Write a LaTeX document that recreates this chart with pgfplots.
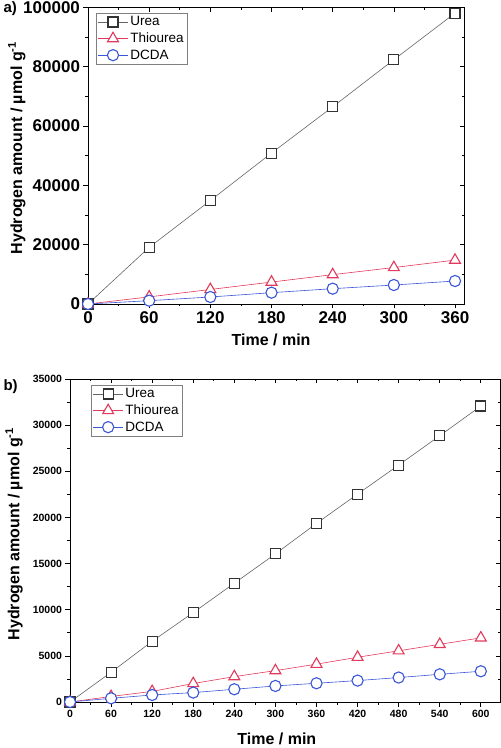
\documentclass[border=0pt]{standalone}
\usepackage{pgfplots}
\pgfplotsset{compat=1.18}
\usepackage{fontspec}
\setmainfont{Liberation Sans}
\definecolor{ureac}{HTML}{333333}
\definecolor{ureal}{HTML}{666666}
\definecolor{thioc}{HTML}{E23A5C}
\definecolor{dcdac}{HTML}{3A55D8}
\pgfplotsset{
  common/.style={
    scale only axis, anchor=south west,
    axis line style={black, line width=0.8pt},
    every tick/.style={black, line width=0.7pt},
    major tick length=4.5pt, minor tick length=2.5pt,
    /pgf/number format/assume math mode=true,
    /pgf/number format/fixed,
    /pgf/number format/precision=0,
    /pgf/number format/1000 sep={},
    scaled y ticks=false, scaled x ticks=false,
  },
  mainax/.style={common, tick align=outside, xtick pos=left, ytick pos=left},
  overax/.style={common, tick align=inside, xtick pos=right, ytick pos=right,
    xticklabels={}, yticklabels={}},
  ur/.style={color=ureal, line width=0.6pt, mark=square*, mark size=5pt,
    mark options={draw=ureac, line width=1.1pt, fill=white}},
  th/.style={color=thioc, line width=0.6pt, mark=triangle*, mark size=6.3pt,
    mark options={draw=thioc, line width=1.1pt, fill=white}},
  dc/.style={color=dcdac, line width=0.6pt, mark=*, mark size=5.6pt,
    mark options={draw=dcdac, line width=1.1pt, fill=white}},
  leg/.style={legend cell align=left,
    legend image code/.code={\draw[mark repeat=2,mark phase=2] plot coordinates {(0pt,0pt)(15pt,0pt)(30pt,0pt)};}},
}
\begin{document}
\begin{tikzpicture}
% ---------- panel a ----------
\begin{axis}[overax, at={(88pt,444pt)}, width=376pt, height=296.5pt,
  xmin=0, xmax=368.8, ymin=0, ymax=100000,
  xtick={0,60,...,360}, minor x tick num=1,
  ytick={0,20000,...,100000}, minor y tick num=1]
\end{axis}
\begin{axis}[mainax, leg, at={(88pt,444pt)}, width=376pt, height=296.5pt,
  xmin=0, xmax=368.8, ymin=0, ymax=100000,
  xtick={0,60,...,360}, minor x tick num=1,
  ytick={0,20000,...,100000}, minor y tick num=1,
  ticklabel style={font=\fontsize{17}{19}\selectfont\bfseries},
  xlabel={Time / min},
  xlabel style={font=\fontsize{16}{18}\selectfont\bfseries, at={(axis description cs:0.487,-0.12)}, anchor=center},
  ylabel={Hydrogen amount / \textmu mol g\textsuperscript{-1}},
  ylabel style={font=\fontsize{16}{18}\selectfont\bfseries, at={(axis description cs:-0.189,0.526)}, anchor=center},
  legend style={at={(axis description cs:0.021,0.982)}, anchor=north west,
    draw=gray, line width=0.6pt, font=\fontsize{13.5}{15}\selectfont,
    row sep=1.5pt, inner sep=1.5pt},
]
\addplot[ur] coordinates {(0,0)(60,19100)(120,34900)(180,50900)(240,66500)(300,82400)(360,98100)};
\addplot[th] coordinates {(0,0)(60,2400)(120,4900)(180,7400)(240,9900)(300,12300)(360,14800)};
\addplot[dc] coordinates {(0,0)(60,1120)(120,2360)(180,3820)(240,5170)(300,6400)(360,7750)};
\legend{Urea,Thiourea,DCDA}
\end{axis}
\node[font=\fontsize{15}{17}\selectfont\bfseries, anchor=west] at (0pt,739pt) {a)};
% ---------- panel b ----------
\begin{axis}[overax, at={(70pt,46pt)}, width=430pt, height=323pt,
  xmin=0, xmax=628, ymin=0, ymax=35000,
  xtick={0,60,...,600}, minor x tick num=1,
  ytick={0,5000,...,35000}, minor y tick num=1]
\end{axis}
\begin{axis}[mainax, leg, at={(70pt,46pt)}, width=430pt, height=323pt,
  xmin=0, xmax=628, ymin=0, ymax=35000,
  xtick={0,60,...,600}, minor x tick num=1,
  ytick={0,5000,...,35000}, minor y tick num=1,
  ticklabel style={font=\fontsize{10.5}{12}\selectfont\bfseries},
  xlabel={Time / min},
  xlabel style={font=\fontsize{16}{18}\selectfont\bfseries, at={(axis description cs:0.481,-0.113)}, anchor=center},
  ylabel={Hydrogen amount / \textmu mol g\textsuperscript{-1}},
  ylabel style={font=\fontsize{16}{18}\selectfont\bfseries, at={(axis description cs:-0.130,0.52)}, anchor=center},
  legend style={at={(axis description cs:0.049,0.982)}, anchor=north west,
    draw=gray, line width=0.6pt, font=\fontsize{13.5}{15}\selectfont,
    row sep=1.5pt, inner sep=1.5pt},
]
\addplot[ur] coordinates {(0,0)(60,3220)(120,6580)(180,9690)(240,12870)(300,16050)(360,19350)(420,22530)(480,25670)(540,28850)(600,32070)};
\addplot[th] coordinates {(0,0)(60,600)(120,1150)(180,2000)(240,2750)(300,3400)(360,4100)(420,4850)(480,5550)(540,6250)(600,6950)};
\addplot[dc] coordinates {(0,0)(60,400)(120,760)(180,1020)(240,1380)(300,1740)(360,2030)(420,2320)(480,2650)(540,3000)(600,3330)};
\legend{Urea,Thiourea,DCDA}
\end{axis}
\node[font=\fontsize{15}{17}\selectfont\bfseries, anchor=west] at (0pt,361pt) {b)};
\pgfresetboundingbox
\path[use as bounding box] (0pt,0pt) rectangle (501pt,748pt);
\end{tikzpicture}
\end{document}
